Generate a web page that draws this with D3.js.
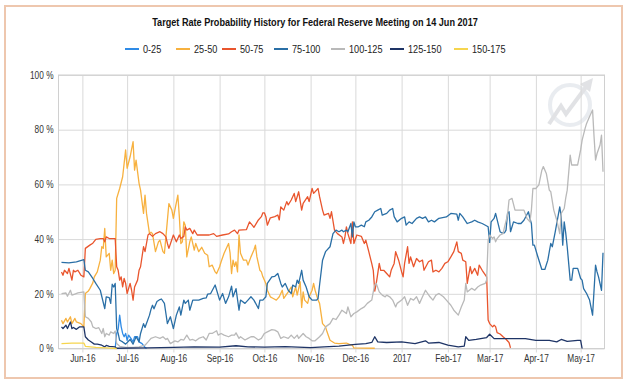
<!DOCTYPE html>
<html>
<head>
<meta charset="utf-8">
<script src="https://cdn.jsdelivr.net/npm/d3@7/dist/d3.min.js"></script>
<style>
body { margin: 0; background: #fff; }
text { font-family: 'Liberation Sans Narrow', 'Liberation Sans', Arial, sans-serif; }
</style>
</head>
<body>
<svg id="chart" width="630" height="389"></svg>
<script>
var chartTitle = 'Target Rate Probability History for Federal Reserve Meeting on 14 Jun 2017';

var seriesNames = ['0-25', '25-50', '50-75', '75-100', '100-125', '125-150', '150-175'];
var seriesColors = ['#2f8be6', '#f7b13f', '#e9552d', '#2a6fa6', '#b9b9b9', '#1e3466', '#f6d54e'];

var xTickDates = ['2016-06-01', '2016-07-01', '2016-08-01', '2016-09-01', '2016-10-01', '2016-11-01',
	'2016-12-01', '2017-01-01', '2017-02-01', '2017-03-01', '2017-04-01', '2017-05-01'];
var xTickLabels = ['Jun-16', 'Jul-16', 'Aug-16', 'Sep-16', 'Oct-16', 'Nov-16',
	'Dec-16', '2017', 'Feb-17', 'Mar-17', 'Apr-17', 'May-17'];
var yTicks = [0, 20, 40, 60, 80, 100];

// probabilities in %, [date, value]
var rate0_25 = [["2016-06-23",0.0],["2016-06-24",5.5],["2016-06-25",7.0],["2016-06-26",12.2],["2016-06-27",8.0],
	["2016-06-28",5.5],["2016-06-29",4.3],["2016-06-30",5.5],["2016-07-01",3.0],["2016-07-02",4.9],["2016-07-04",3.3],
	["2016-07-05",2.4],["2016-07-06",4.3],["2016-07-08",4.3],["2016-07-09",2.4],["2016-07-11",1.8],["2016-07-13",0.4],
	["2016-07-14",0.0]];

var rate25_50 = [["2016-05-18",10.3],["2016-05-19",9.1],["2016-05-21",11.0],["2016-05-22",9.7],["2016-05-24",11.6],
	["2016-05-25",9.1],["2016-05-27",11.0],["2016-05-28",9.7],["2016-05-31",9.1],["2016-06-02",7.9],["2016-06-03",20.1],
	["2016-06-05",21.0],["2016-06-06",21.9],["2016-06-08",24.0],["2016-06-09",26.2],["2016-06-11",28.0],["2016-06-13",32.3],
	["2016-06-14",37.2],["2016-06-15",36.6],["2016-06-16",43.9],["2016-06-17",33.5],["2016-06-19",34.8],["2016-06-20",28.6],
	["2016-06-21",32.3],["2016-06-22",27.4],["2016-06-23",28.6],["2016-06-24",54.9],["2016-06-26",58.5],["2016-06-28",62.8],
	["2016-06-29",67.7],["2016-06-30",72.6],["2016-07-01",65.9],["2016-07-03",70.1],["2016-07-05",75.6],["2016-07-06",65.2],
	["2016-07-07",68.9],["2016-07-09",60.4],["2016-07-10",57.9],["2016-07-12",49.4],["2016-07-13",56.1],["2016-07-14",49.4],
	["2016-07-16",42.0],["2016-07-17",42.5],["2016-07-18",42.0],["2016-07-20",35.4],["2016-07-22",39.0],["2016-07-23",39.6],
	["2016-07-25",35.4],["2016-07-26",34.8],["2016-07-27",40.8],["2016-07-29",53.0],["2016-07-31",50.6],["2016-08-01",47.6],
	["2016-08-02",50.6],["2016-08-04",56.1],["2016-08-05",48.2],["2016-08-06",38.4],["2016-08-07",39.0],["2016-08-08",46.3],
	["2016-08-09",45.0],["2016-08-10",33.5],["2016-08-12",39.0],["2016-08-13",40.8],["2016-08-15",36.0],["2016-08-16",38.4],
	["2016-08-18",35.4],["2016-08-20",37.0],["2016-08-22",34.8],["2016-08-24",34.1],["2016-08-25",29.9],["2016-08-27",30.5],
	["2016-08-29",28.0],["2016-08-30",27.4],["2016-09-01",29.9],["2016-09-02",31.7],["2016-09-04",34.8],["2016-09-06",37.2],
	["2016-09-07",38.4],["2016-09-08",35.0],["2016-09-09",27.4],["2016-09-10",32.3],["2016-09-11",30.0],["2016-09-12",31.7],
	["2016-09-13",28.0],["2016-09-14",41.5],["2016-09-15",34.8],["2016-09-17",32.3],["2016-09-19",32.3],["2016-09-20",30.5],
	["2016-09-22",33.5],["2016-09-24",36.0],["2016-09-25",37.8],["2016-09-26",33.5],["2016-09-28",28.6],["2016-09-29",28.0],
	["2016-09-30",26.2],["2016-10-02",23.8],["2016-10-03",21.3],["2016-10-05",18.9],["2016-10-07",18.3],["2016-10-09",17.7],
	["2016-10-11",18.9],["2016-10-13",21.3],["2016-10-14",18.3],["2016-10-17",20.7],["2016-10-19",22.5],["2016-10-20",18.9],
	["2016-10-22",22.5],["2016-10-23",19.5],["2016-10-25",24.4],["2016-10-26",15.0],["2016-10-27",20.7],["2016-10-28",17.7],
	["2016-10-30",16.5],["2016-10-31",18.9],["2016-11-02",21.3],["2016-11-03",23.8],["2016-11-04",21.3],["2016-11-06",17.7],
	["2016-11-07",16.5],["2016-11-09",9.1],["2016-11-11",7.9],["2016-11-12",6.1],["2016-11-14",3.0],["2016-11-17",2.0],
	["2016-11-20",1.8],["2016-11-25",2.0],["2016-11-27",1.5],["2016-11-29",1.2],["2016-11-30",0.2],["2016-12-14",0.1]];

var rate50_75 = [["2016-05-18",28.0],["2016-05-19",26.8],["2016-05-20",28.6],["2016-05-22",27.4],["2016-05-23",29.3],
	["2016-05-25",25.0],["2016-05-26",28.6],["2016-05-27",28.0],["2016-05-29",28.6],["2016-05-31",26.8],["2016-06-02",26.2],
	["2016-06-03",36.6],["2016-06-06",37.8],["2016-06-08",38.5],["2016-06-10",39.9],["2016-06-13",40.2],["2016-06-15",40.2],
	["2016-06-16",39.0],["2016-06-17",40.8],["2016-06-19",40.2],["2016-06-21",40.2],["2016-06-23",40.2],["2016-06-24",29.9],
	["2016-06-25",28.6],["2016-06-26",25.0],["2016-06-27",26.2],["2016-06-28",22.5],["2016-06-29",25.6],["2016-06-30",23.8],
	["2016-07-01",20.1],["2016-07-03",23.8],["2016-07-04",21.3],["2016-07-05",17.7],["2016-07-06",22.5],["2016-07-08",25.0],
	["2016-07-09",28.6],["2016-07-10",29.9],["2016-07-12",37.2],["2016-07-13",35.4],["2016-07-15",41.5],["2016-07-16",42.0],
	["2016-07-18",41.0],["2016-07-20",42.0],["2016-07-23",42.7],["2016-07-25",42.0],["2016-07-27",40.8],["2016-07-28",38.4],
	["2016-07-29",36.6],["2016-08-01",41.5],["2016-08-03",39.0],["2016-08-05",41.5],["2016-08-06",40.2],["2016-08-08",41.0],
	["2016-08-09",44.5],["2016-08-10",43.3],["2016-08-12",43.9],["2016-08-14",42.0],["2016-08-15",43.3],["2016-08-17",41.5],
	["2016-08-21",41.5],["2016-08-25",41.5],["2016-08-28",42.0],["2016-08-30",41.0],["2016-09-03",41.5],["2016-09-07",41.9],
	["2016-09-09",42.7],["2016-09-11",43.3],["2016-09-13",42.0],["2016-09-14",43.3],["2016-09-19",43.5],["2016-09-21",46.3],
	["2016-09-23",45.0],["2016-09-24",44.3],["2016-09-27",47.0],["2016-09-29",48.2],["2016-09-30",49.6],["2016-10-01",49.6],
	["2016-10-02",48.2],["2016-10-03",45.1],["2016-10-05",47.8],["2016-10-08",48.2],["2016-10-10",48.8],["2016-10-11",47.0],
	["2016-10-12",51.8],["2016-10-14",50.6],["2016-10-16",53.7],["2016-10-17",52.5],["2016-10-19",54.3],["2016-10-21",56.7],
	["2016-10-22",53.7],["2016-10-24",57.3],["2016-10-26",50.6],["2016-10-27",53.1],["2016-10-30",55.5],["2016-10-31",53.7],
	["2016-11-02",58.5],["2016-11-03",56.7],["2016-11-06",58.5],["2016-11-07",55.5],["2016-11-09",50.6],["2016-11-10",48.8],
	["2016-11-13",49.4],["2016-11-14",47.6],["2016-11-15",50.0],["2016-11-17",43.3],["2016-11-19",42.0],["2016-11-22",40.8],
	["2016-11-23",38.4],["2016-11-24",40.8],["2016-11-25",44.5],["2016-11-26",42.0],["2016-11-28",38.4],["2016-11-29",46.3],
	["2016-11-30",38.4],["2016-12-02",41.5],["2016-12-05",41.0],["2016-12-07",38.4],["2016-12-08",39.6],["2016-12-10",35.4],
	["2016-12-12",31.0],["2016-12-13",28.6],["2016-12-14",21.0],["2016-12-15",23.8],["2016-12-16",27.4],["2016-12-17",31.1],
	["2016-12-18",28.6],["2016-12-20",28.6],["2016-12-22",27.4],["2016-12-24",26.2],["2016-12-25",28.6],["2016-12-27",31.1],
	["2016-12-28",35.4],["2016-12-30",32.3],["2017-01-01",28.0],["2017-01-02",26.2],["2017-01-03",31.1],["2017-01-05",37.2],
	["2017-01-06",31.1],["2017-01-07",33.5],["2017-01-09",29.9],["2017-01-11",32.9],["2017-01-13",31.7],["2017-01-15",32.3],
	["2017-01-16",28.6],["2017-01-19",31.7],["2017-01-21",32.3],["2017-01-22",28.0],["2017-01-24",28.6],["2017-01-26",28.0],
	["2017-01-28",29.3],["2017-01-30",31.1],["2017-02-01",31.7],["2017-02-03",33.5],["2017-02-05",35.4],["2017-02-07",39.0],
	["2017-02-08",35.4],["2017-02-10",34.8],["2017-02-11",32.3],["2017-02-13",31.7],["2017-02-14",23.8],["2017-02-16",29.9],
	["2017-02-17",27.4],["2017-02-19",29.3],["2017-02-21",26.8],["2017-02-22",30.5],["2017-02-24",28.6],["2017-02-27",26.2],
	["2017-02-28",10.4],["2017-03-01",9.1],["2017-03-03",7.9],["2017-03-04",8.5],["2017-03-05",8.0],["2017-03-06",5.8],
	["2017-03-08",5.3],["2017-03-10",4.3],["2017-03-12",3.4],["2017-03-14",2.2],["2017-03-15",0.2]];

var rate75_100 = [["2016-05-18",31.5],["2016-05-23",31.3],["2016-05-28",31.7],["2016-06-02",32.5],["2016-06-03",28.6],
	["2016-06-05",28.0],["2016-06-08",25.6],["2016-06-10",23.8],["2016-06-13",21.3],["2016-06-16",14.6],["2016-06-17",18.9],
	["2016-06-19",18.6],["2016-06-20",16.5],["2016-06-21",23.5],["2016-06-22",22.5],["2016-06-23",23.8],["2016-06-24",7.3],
	["2016-06-25",5.5],["2016-06-26",3.0],["2016-06-28",2.4],["2016-06-30",1.6],["2016-07-03",3.3],["2016-07-05",1.6],
	["2016-07-07",4.3],["2016-07-09",2.4],["2016-07-10",5.5],["2016-07-12",9.1],["2016-07-13",7.7],["2016-07-16",12.2],
	["2016-07-17",14.3],["2016-07-18",15.8],["2016-07-19",14.5],["2016-07-21",17.2],["2016-07-23",17.9],["2016-07-24",18.1],
	["2016-07-26",16.5],["2016-07-27",12.8],["2016-07-28",9.1],["2016-07-30",11.6],["2016-08-01",7.3],["2016-08-03",12.2],
	["2016-08-05",15.2],["2016-08-06",12.2],["2016-08-08",17.7],["2016-08-09",16.5],["2016-08-11",17.7],["2016-08-12",14.0],
	["2016-08-14",17.7],["2016-08-16",17.7],["2016-08-18",17.7],["2016-08-21",18.3],["2016-08-23",18.5],["2016-08-24",19.9],
	["2016-08-26",20.1],["2016-08-29",23.2],["2016-09-01",17.7],["2016-09-03",20.1],["2016-09-05",16.5],["2016-09-07",18.9],
	["2016-09-09",22.8],["2016-09-10",18.9],["2016-09-12",21.9],["2016-09-14",14.0],["2016-09-15",17.7],["2016-09-18",16.5],
	["2016-09-20",17.7],["2016-09-22",18.9],["2016-09-24",17.7],["2016-09-27",14.6],["2016-09-28",17.7],["2016-09-30",17.7],
	["2016-10-02",18.9],["2016-10-03",23.8],["2016-10-06",26.2],["2016-10-08",26.4],["2016-10-10",27.4],["2016-10-12",23.8],
	["2016-10-13",22.5],["2016-10-15",23.8],["2016-10-17",21.3],["2016-10-19",20.1],["2016-10-20",23.2],["2016-10-22",22.5],
	["2016-10-23",25.0],["2016-10-24",23.8],["2016-10-26",28.6],["2016-10-27",25.0],["2016-10-29",22.5],["2016-10-31",18.9],
	["2016-11-02",17.7],["2016-11-05",17.7],["2016-11-06",18.3],["2016-11-07",23.2],["2016-11-09",32.3],["2016-11-11",35.4],
	["2016-11-14",37.2],["2016-11-16",42.0],["2016-11-18",43.3],["2016-11-20",42.7],["2016-11-22",43.3],["2016-11-23",42.7],
	["2016-11-25",43.3],["2016-11-26",42.7],["2016-11-28",45.7],["2016-11-29",40.8],["2016-11-30",46.3],["2016-12-01",44.5],
	["2016-12-03",44.5],["2016-12-05",45.1],["2016-12-07",44.5],["2016-12-08",46.3],["2016-12-10",46.9],["2016-12-12",48.1],
	["2016-12-14",50.0],["2016-12-16",50.6],["2016-12-18",51.2],["2016-12-19",48.8],["2016-12-22",49.4],["2016-12-24",50.6],
	["2016-12-26",51.2],["2016-12-27",48.2],["2016-12-29",46.3],["2017-01-01",47.6],["2017-01-03",48.1],["2017-01-04",45.1],
	["2017-01-06",46.3],["2017-01-08",45.7],["2017-01-11",47.6],["2017-01-13",48.1],["2017-01-15",47.6],["2017-01-17",48.1],
	["2017-01-19",46.3],["2017-01-21",46.9],["2017-01-23",46.3],["2017-01-26",47.6],["2017-01-31",48.1],["2017-02-03",49.4],
	["2017-02-07",49.1],["2017-02-08",46.9],["2017-02-09",49.4],["2017-02-11",48.1],["2017-02-14",45.7],["2017-02-17",46.3],
	["2017-02-19",46.9],["2017-02-21",46.3],["2017-02-24",45.7],["2017-02-28",44.5],["2017-03-01",38.8],["2017-03-02",46.3],
	["2017-03-04",47.6],["2017-03-05",49.4],["2017-03-08",42.7],["2017-03-09",42.3],["2017-03-11",42.3],["2017-03-12",43.3],
	["2017-03-13",49.4],["2017-03-14",50.0],["2017-03-15",42.7],["2017-03-17",46.3],["2017-03-20",45.7],["2017-03-22",45.7],
	["2017-03-24",46.9],["2017-03-27",50.0],["2017-03-28",47.6],["2017-03-29",45.7],["2017-03-30",37.8],["2017-03-31",37.8],
	["2017-04-02",34.1],["2017-04-05",28.9],["2017-04-07",28.9],["2017-04-09",32.3],["2017-04-10",35.4],["2017-04-11",38.4],
	["2017-04-12",37.2],["2017-04-14",42.7],["2017-04-17",51.8],["2017-04-18",48.1],["2017-04-19",37.8],["2017-04-20",46.3],
	["2017-04-21",42.3],["2017-04-22",37.2],["2017-04-24",25.0],["2017-04-25",25.0],["2017-04-26",29.3],["2017-04-29",29.3],
	["2017-05-01",25.6],["2017-05-02",25.0],["2017-05-03",21.9],["2017-05-05",20.1],["2017-05-07",17.7],["2017-05-09",12.2],
	["2017-05-11",30.5],["2017-05-12",28.0],["2017-05-13",26.2],["2017-05-15",21.3],["2017-05-16",35.0]];

var rate100_125 = [["2016-05-18",20.1],["2016-05-21",20.3],["2016-05-22",19.1],["2016-05-24",21.3],["2016-05-25",19.5],
	["2016-05-27",19.9],["2016-05-29",20.3],["2016-06-02",20.7],["2016-06-03",11.6],["2016-06-05",11.0],["2016-06-07",9.7],
	["2016-06-08",7.9],["2016-06-10",7.3],["2016-06-12",7.6],["2016-06-14",5.5],["2016-06-15",7.3],["2016-06-16",4.3],
	["2016-06-17",5.5],["2016-06-19",4.9],["2016-06-20",6.1],["2016-06-22",5.5],["2016-06-23",6.4],["2016-06-24",1.8],
	["2016-06-26",0.8],["2016-06-30",0.4],["2016-07-05",0.4],["2016-07-09",0.6],["2016-07-13",1.2],["2016-07-15",2.4],
	["2016-07-17",3.7],["2016-07-20",4.3],["2016-07-23",3.7],["2016-07-25",4.3],["2016-07-27",3.3],["2016-07-28",3.7],
	["2016-07-30",1.8],["2016-08-02",2.8],["2016-08-04",2.4],["2016-08-06",3.3],["2016-08-08",3.1],["2016-08-10",4.9],
	["2016-08-12",3.1],["2016-08-14",3.3],["2016-08-16",2.8],["2016-08-18",3.7],["2016-08-21",4.3],["2016-08-23",3.1],
	["2016-08-25",5.5],["2016-08-27",5.5],["2016-08-30",6.5],["2016-08-31",4.9],["2016-09-02",5.5],["2016-09-04",4.9],
	["2016-09-07",4.3],["2016-09-09",4.9],["2016-09-11",4.9],["2016-09-12",5.7],["2016-09-14",3.7],["2016-09-15",4.3],
	["2016-09-18",3.1],["2016-09-20",3.7],["2016-09-22",4.3],["2016-09-24",4.3],["2016-09-27",3.1],["2016-09-29",3.7],
	["2016-10-01",5.5],["2016-10-03",6.1],["2016-10-06",6.9],["2016-10-08",6.7],["2016-10-10",6.1],["2016-10-12",3.7],
	["2016-10-14",4.3],["2016-10-17",3.7],["2016-10-19",4.9],["2016-10-21",3.7],["2016-10-23",4.9],["2016-10-24",3.7],
	["2016-10-27",5.5],["2016-10-29",4.3],["2016-10-31",3.7],["2016-11-02",2.8],["2016-11-04",2.8],["2016-11-07",4.3],
	["2016-11-09",5.5],["2016-11-11",7.9],["2016-11-14",9.1],["2016-11-16",11.0],["2016-11-18",10.6],["2016-11-20",12.2],
	["2016-11-22",14.0],["2016-11-25",12.8],["2016-11-26",15.2],["2016-11-28",11.6],["2016-11-30",12.8],["2016-12-02",13.4],
	["2016-12-05",14.6],["2016-12-07",15.2],["2016-12-09",16.5],["2016-12-12",17.7],["2016-12-13",20.7],["2016-12-14",23.2],
	["2016-12-15",23.8],["2016-12-17",20.7],["2016-12-19",19.5],["2016-12-21",18.9],["2016-12-22",19.5],["2016-12-24",18.9],
	["2016-12-26",17.7],["2016-12-28",15.2],["2016-12-29",16.5],["2017-01-01",17.7],["2017-01-03",18.9],["2017-01-05",15.8],
	["2017-01-07",18.3],["2017-01-09",17.7],["2017-01-11",18.9],["2017-01-13",16.5],["2017-01-15",18.9],["2017-01-17",21.3],
	["2017-01-20",18.9],["2017-01-22",17.7],["2017-01-24",19.5],["2017-01-26",20.1],["2017-01-29",18.9],["2017-01-31",17.7],
	["2017-02-03",15.8],["2017-02-05",14.0],["2017-02-08",12.2],["2017-02-10",15.2],["2017-02-12",17.7],["2017-02-13",23.8],
	["2017-02-14",20.7],["2017-02-17",22.0],["2017-02-19",21.3],["2017-02-21",22.5],["2017-02-23",23.2],["2017-02-26",23.8],
	["2017-02-27",25.0],["2017-02-28",39.6],["2017-03-01",41.5],["2017-03-03",40.2],["2017-03-04",40.8],["2017-03-05",39.0],
	["2017-03-06",40.2],["2017-03-08",41.5],["2017-03-10",42.0],["2017-03-11",44.5],["2017-03-13",48.8],["2017-03-14",54.3],
	["2017-03-16",54.9],["2017-03-18",50.6],["2017-03-20",50.6],["2017-03-22",50.6],["2017-03-24",50.6],["2017-03-26",47.6],
	["2017-03-28",46.3],["2017-03-29",50.6],["2017-03-30",58.5],["2017-04-01",58.5],["2017-04-03",59.8],["2017-04-05",65.2],
	["2017-04-06",66.5],["2017-04-08",64.0],["2017-04-10",57.9],["2017-04-11",57.3],["2017-04-13",50.6],["2017-04-15",46.9],
	["2017-04-17",42.0],["2017-04-18",49.4],["2017-04-20",51.2],["2017-04-21",55.0],["2017-04-22",57.9],["2017-04-24",70.7],
	["2017-04-25",67.1],["2017-04-29",67.1],["2017-05-01",72.6],["2017-05-02",76.2],["2017-05-04",80.5],["2017-05-05",82.3],
	["2017-05-07",84.8],["2017-05-09",87.2],["2017-05-10",77.4],["2017-05-11",68.9],["2017-05-12",71.3],["2017-05-14",74.4],
	["2017-05-15",78.0],["2017-05-16",64.6]];

var rate125_150 = [["2016-05-18",7.9],["2016-05-19",7.3],["2016-05-21",8.5],["2016-05-22",7.3],["2016-05-24",9.7],
	["2016-05-25",7.3],["2016-05-26",7.7],["2016-05-28",7.0],["2016-05-30",7.9],["2016-06-02",7.9],["2016-06-03",4.3],
	["2016-06-05",3.1],["2016-06-07",2.4],["2016-06-09",1.6],["2016-06-11",1.6],["2016-06-14",1.2],["2016-06-16",0.6],
	["2016-06-17",1.1],["2016-06-19",0.8],["2016-06-23",0.6],["2016-06-24",0.1],["2016-07-15",0.2],["2016-08-01",0.4],
	["2016-08-15",0.6],["2016-09-01",0.5],["2016-09-12",1.0],["2016-09-20",0.6],["2016-10-01",0.5],["2016-10-15",0.7],
	["2016-11-01",0.3],["2016-11-10",0.6],["2016-11-20",0.9],["2016-12-01",1.5],["2016-12-08",1.8],["2016-12-12",2.2],
	["2016-12-14",4.3],["2016-12-16",2.4],["2016-12-22",2.2],["2017-01-01",2.4],["2017-01-10",1.8],["2017-01-17",2.8],
	["2017-01-19",2.0],["2017-01-26",2.2],["2017-02-01",1.2],["2017-02-08",0.6],["2017-02-12",0.9],["2017-02-13",4.3],
	["2017-02-15",3.0],["2017-02-20",3.3],["2017-02-27",4.0],["2017-03-01",5.2],["2017-03-04",3.6],["2017-03-15",3.6],
	["2017-03-25",3.6],["2017-04-01",3.0],["2017-04-10",3.0],["2017-04-15",2.4],["2017-04-18",3.3],["2017-04-22",2.6],
	["2017-04-29",3.0],["2017-05-01",3.0],["2017-05-02",0.0]];

var rate150_175 = [["2016-05-18",1.8],["2016-05-25",2.0],["2016-06-02",2.0],["2016-06-03",0.8],["2016-06-10",0.4],
	["2016-06-17",0.2],["2016-06-24",0.0]];

var seriesData = [rate0_25, rate25_50, rate50_75, rate75_100, rate100_125, rate125_150, rate150_175];

var parseDate = d3.timeParse('%Y-%m-%d');

var plot = { left: 58.5, right: 604.5, top: 75, bottom: 348.5 };
var narrow = 0.83; // no condensed face installed, squeeze the regular one

var svg = d3.select('#chart');

// outer frame
svg.append('rect')
	.attr('x', 5)
	.attr('y', 6)
	.attr('width', 617)
	.attr('height', 372)
	.attr('fill', '#fff')
	.attr('stroke', '#eec7ae')
	.attr('stroke-width', 2);

svg.append('text')
	.attr('transform', 'translate(315,26) scale(' + narrow + ',1)')
	.attr('text-anchor', 'middle')
	.attr('font-size', 11)
	.attr('font-weight', 'bold')
	.attr('fill', '#111')
	.text(chartTitle);

var x = d3.scaleTime()
	.domain([new Date(2016, 4, 16), new Date(2017, 4, 17)])
	.range([plot.left, plot.right]);

var y = d3.scaleLinear()
	.domain([0, 100])
	.range([plot.bottom, plot.top]);

// watermark
var wm = svg.append('g').attr('opacity', 0.5);
wm.append('circle')
	.attr('cx', 570)
	.attr('cy', 105)
	.attr('r', 20)
	.attr('fill', 'none')
	.attr('stroke', '#d5dbe3')
	.attr('stroke-width', 4);
wm.append('path')
	.attr('d', 'M549,124 L561,106 L566,114 L586,87')
	.attr('fill', 'none')
	.attr('stroke', '#c4c7cc')
	.attr('stroke-width', 4);
wm.append('path')
	.attr('d', 'M580,84 L593,78 L590,92 Z')
	.attr('fill', '#c4c7cc');

// y grid + labels
var yAxis = d3.axisLeft(y)
	.tickValues(yTicks)
	.tickSize(-(plot.right - plot.left))
	.tickPadding(5)
	.tickFormat(function(d){ return d + ' %'; });

var gy = svg.append('g')
	.attr('transform', 'translate(' + plot.left + ',0)')
	.call(yAxis);
gy.select('.domain').remove();
gy.selectAll('line').attr('stroke', '#d9d9d9');
gy.selectAll('text')
	.attr('x', -5 / narrow)
	.attr('transform', 'scale(' + narrow + ',1)')
	.attr('font-size', 10)
	.attr('fill', '#333')
	.attr('font-family', null);

// x grid + labels
var xAxis = d3.axisBottom(x)
	.tickValues(xTickDates.map(parseDate))
	.tickSize(-(plot.bottom - plot.top))
	.tickPadding(6)
	.tickFormat(function(d, i){ return xTickLabels[i]; });

var gx = svg.append('g')
	.attr('transform', 'translate(0,' + plot.bottom + ')')
	.call(xAxis);
gx.select('.domain').remove();
gx.selectAll('line')
	.attr('stroke', '#d9d9d9')
	.attr('y1', 4);
gx.selectAll('text')
	.attr('transform', 'scale(' + narrow + ',1)')
	.attr('font-size', 10)
	.attr('fill', '#333')
	.attr('font-family', null);

// plot frame
svg.append('rect')
	.attr('x', plot.left)
	.attr('y', plot.top)
	.attr('width', plot.right - plot.left)
	.attr('height', plot.bottom - plot.top)
	.attr('fill', 'none')
	.attr('stroke', '#d0d0d0');

var line = d3.line()
	.x(function(d){ return x(parseDate(d[0])); })
	.y(function(d){ return y(d[1]); });

svg.append('g')
	.selectAll('path')
	.data(seriesData)
	.join('path')
	.attr('d', line)
	.attr('fill', 'none')
	.attr('stroke', function(d, i){ return seriesColors[i]; })
	.attr('stroke-width', 1.3)
	.attr('stroke-linejoin', 'round');

// legend
var legendX = [125, 176, 222, 274, 331, 390, 454];
var legend = svg.append('g');
for (var i = 0; i < seriesNames.length; i++){
	legend.append('line')
		.attr('x1', legendX[i])
		.attr('x2', legendX[i] + 14)
		.attr('y1', 49)
		.attr('y2', 49)
		.attr('stroke', seriesColors[i])
		.attr('stroke-width', 2);
	legend.append('text')
		.attr('transform', 'translate(' + (legendX[i] + 18) + ',53) scale(' + narrow + ',1)')
		.attr('font-size', 11)
		.attr('fill', '#222')
		.text(seriesNames[i]);
}
</script>
</body>
</html>
